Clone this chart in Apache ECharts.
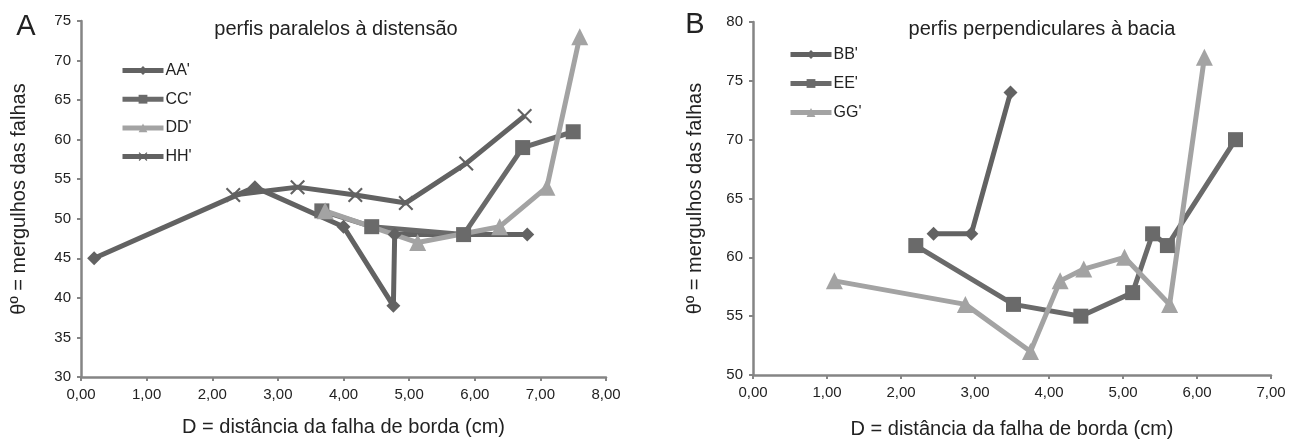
<!DOCTYPE html>
<html>
<head>
<meta charset="utf-8">
<script src="https://cdn.jsdelivr.net/npm/echarts@6/dist/echarts.min.js"></script>
<style>
  html, body { margin: 0; padding: 0; background: #fff; }
  #chart { width: 1300px; height: 444px; }
</style>
</head>
<body>
<div id="chart"></div>
<script>
// painel A - perfis paralelos à distensão  [D (cm), mergulho (graus)]
var seriesA = ["AA'", "CC'", "DD'", "HH'"];
var dataAA = [[0.2, 45], [2.65, 54], [4.0, 49], [4.76, 39], [4.78, 48], [6.8, 48]];
var dataCC = [[3.67, 51], [4.43, 49], [5.83, 48], [6.73, 59], [7.5, 61]];
var dataDD = [[3.72, 51], [5.13, 47], [6.38, 49], [7.1, 54], [7.6, 73]];
var dataHH = [[2.32, 53], [3.3, 54], [4.18, 53], [4.95, 52], [5.87, 57], [6.76, 63]];

// painel B - perfis perpendiculares à bacia
var seriesB = ["BB'", "EE'", "GG'"];
var dataBB = [[2.44, 62], [2.95, 62], [3.48, 74]];
var dataEE = [[2.2, 61], [3.52, 56], [4.43, 55], [5.13, 57], [5.4, 62], [5.6, 61], [6.52, 70]];
var dataGG = [[1.1, 58], [2.87, 56], [3.75, 52], [4.15, 58], [4.47, 59], [5.02, 60], [5.63, 56], [6.1, 77]];

var FONT = 'Liberation Sans, Arial, sans-serif';
var DARK = '#626262';
var MID = '#6a6a6a';
var LIGHT = '#a3a3a3';
var AXIS = '#858585';
// marcador "x" para HH'
var XMARK = 'path://M0,1L1,0L10,9L9,10ZM9,0L10,1L1,10L0,9Z';

function fmtX(v) { return v.toFixed(2).replace('.', ','); }

function xAxis(idx, max) {
  return {
    type: 'value', gridIndex: idx, min: 0, max: max, interval: 1,
    name: 'D = distância da falha de borda (cm)',
    nameLocation: 'middle', nameGap: idx === 0 ? 40 : 44,
    nameTextStyle: { fontFamily: FONT, fontSize: 20, color: '#222' },
    axisLine: { onZero: false, lineStyle: { color: AXIS, width: 2.5 } },
    axisTick: { show: true, length: 4, lineStyle: { color: AXIS, width: 2 } },
    axisLabel: { formatter: fmtX, margin: 10, fontFamily: FONT, fontSize: 15, color: '#222' },
    splitLine: { show: false }
  };
}

function yAxis(idx, min, max) {
  return {
    type: 'value', gridIndex: idx, min: min, max: max, interval: 5,
    name: 'θº = mergulhos das falhas',
    nameLocation: 'middle', nameGap: idx === 0 ? 52 : 48, nameRotate: 90,
    nameTextStyle: { fontFamily: FONT, fontSize: 20, color: '#222' },
    axisLine: { show: true, lineStyle: { color: AXIS, width: 2.5 } },
    axisTick: { show: true, length: 4, lineStyle: { color: AXIS, width: 2 } },
    axisLabel: { margin: 10, fontFamily: FONT, fontSize: 15, color: '#222' },
    splitLine: { show: false }
  };
}

function line(name, data, idx, color, symbol, size) {
  return {
    name: name, type: 'line', data: data,
    xAxisIndex: idx, yAxisIndex: idx,
    symbol: symbol, symbolSize: size, showAllSymbol: true,
    lineStyle: { color: color, width: 5 },
    itemStyle: { color: color },
    clip: false
  };
}

function legend(names, left, top, gap) {
  return {
    data: names, orient: 'vertical', left: left, top: top, padding: 0,
    itemWidth: 41, itemHeight: 11, itemGap: gap,
    lineStyle: { width: 5 },
    textStyle: { fontFamily: FONT, fontSize: 16, color: '#222', padding: [0, 0, 0, -3] }
  };
}

var chart = echarts.init(document.getElementById('chart'), null, { renderer: 'canvas' });

var option = {
  animation: false,
  backgroundColor: '#fff',
  graphic: [
    { type: 'text', x: 26, y: 27, style: { text: 'A', font: '29px ' + FONT, fill: '#222', align: 'center', verticalAlign: 'middle' } },
    { type: 'text', x: 336, y: 29, style: { text: 'perfis paralelos à distensão', font: '20px ' + FONT, fill: '#222', align: 'center', verticalAlign: 'middle' } },
    { type: 'text', x: 695, y: 25, style: { text: 'B', font: '29px ' + FONT, fill: '#222', align: 'center', verticalAlign: 'middle' } },
    { type: 'text', x: 1042, y: 29, style: { text: 'perfis perpendiculares à bacia', font: '20px ' + FONT, fill: '#222', align: 'center', verticalAlign: 'middle' } }
  ],
  legend: [
    legend(seriesA, 120, 62.5, 12.7),
    legend(seriesB, 788, 46.5, 13)
  ],
  grid: [
    { left: 81, top: 21, width: 525, height: 356 },
    { left: 753, top: 22, width: 518, height: 359 }
  ],
  xAxis: [xAxis(0, 8), xAxis(1, 7)],
  yAxis: [yAxis(0, 30, 75), yAxis(1, 50, 80)],
  series: [
    line("AA'", dataAA, 0, DARK, 'diamond', 14),
    line("CC'", dataCC, 0, MID, 'rect', 15),
    line("DD'", dataDD, 0, LIGHT, 'triangle', 17),
    line("HH'", dataHH, 0, DARK, XMARK, 15),
    line("BB'", dataBB, 1, DARK, 'diamond', 14),
    line("EE'", dataEE, 1, MID, 'rect', 15),
    line("GG'", dataGG, 1, LIGHT, 'triangle', 17)
  ]
};

chart.setOption(option);
</script>
</body>
</html>
